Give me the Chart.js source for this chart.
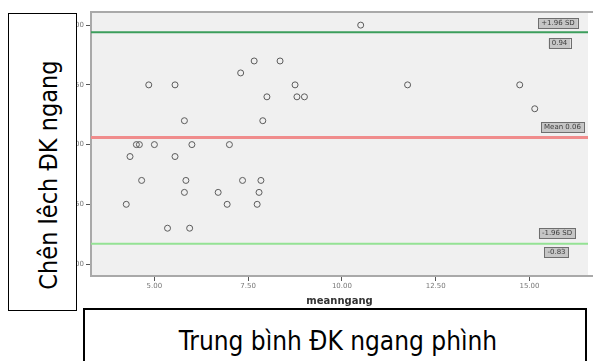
<!DOCTYPE html>
<html>
<head>
<meta charset="utf-8">
<script src="https://cdn.jsdelivr.net/npm/chart.js@4"></script>
<style>
body { margin: 0; background: #fff; }
#wrap { position: relative; width: 593px; height: 361px; overflow: hidden; }
#yBox { position: absolute; left: 8px; top: 13px; width: 67px; height: 296px; border: 1px solid #000; background: #fff; }
#yBox span { position: absolute; left: 39px; top: 161px; transform: translate(-50%, -50%) rotate(-90deg); white-space: nowrap; line-height: 1; font: 25px "DejaVu Sans Condensed", "DejaVu Sans", sans-serif; }
#xBox { position: absolute; left: 83px; top: 308px; width: 500px; height: 70px; border: 2px solid #000; background: #fff; }
#xBox span { position: absolute; left: 253px; top: 16px; transform: translateX(-50%); white-space: nowrap; line-height: 1; font: 26px "DejaVu Sans Condensed", "DejaVu Sans", sans-serif; }
</style>
</head>
<body>
<div id="wrap">
  <canvas id="chart" width="593" height="361"></canvas>
  <div id="yBox"><span>Chên lêch ĐK ngang</span></div>
  <div id="xBox"><span>Trung bình ĐK ngang phình</span></div>
</div>
<script>
// mean of the two measurements (x) and their difference (y)
const meanVals = [7.66, 8.35, 7.30, 4.85, 5.55, 8.75, 8.00, 8.80, 9.00, 5.80, 7.89,
  4.52, 4.60, 5.00, 6.00, 7.00, 4.35, 5.55, 4.66, 5.84, 7.35, 7.84, 5.80, 6.70,
  7.79, 4.25, 6.94, 7.74, 5.35, 5.94, 10.50, 11.75, 14.74, 15.14];
const diffVals = [0.7, 0.7, 0.6, 0.5, 0.5, 0.5, 0.4, 0.4, 0.4, 0.2, 0.2,
  0, 0, 0, 0, 0, -0.1, -0.1, -0.3, -0.3, -0.3, -0.3, -0.4, -0.4,
  -0.4, -0.5, -0.5, -0.5, -0.7, -0.7, 1.0, 0.5, 0.5, 0.3];

const xTicks = [5, 7.5, 10, 12.5, 15];
const yTicks = [-1, -0.5, 0, 0.5, 1];
const xRange = [3.31, 16.56];
const yRange = [-1.1, 1.11];

const upperLoA = 0.94;
const meanDiff = 0.06;
const lowerLoA = -0.83;
const refTexts = ["+1.96 SD", "0.94", "Mean 0.06", "-1.96 SD", "-0.83"];
const refValues = [upperLoA, upperLoA, meanDiff, lowerLoA, lowerLoA];

const hLine = v => [{ x: xRange[0], y: v }, { x: xRange[1], y: v }];

const plotFrame = {
  id: "plotFrame",
  beforeDatasetsDraw(chart) {
    const { ctx, chartArea: a } = chart;
    ctx.save();
    ctx.fillStyle = "#f0f0f0";
    ctx.fillRect(a.left, a.top, a.right - a.left, a.bottom - a.top);
    ctx.strokeStyle = "#a9a9a9";
    ctx.lineWidth = 2;
    ctx.beginPath();
    ctx.moveTo(a.right + 5, a.top);
    ctx.lineTo(a.left, a.top);
    ctx.lineTo(a.left, a.bottom);
    ctx.lineTo(a.right + 5, a.bottom);
    ctx.stroke();
    ctx.restore();
  }
};

// offsets of the little reference-line tags (from right edge, from the line)
const tagPos = [[30, -9], [28.5, 11], [25.5, -10], [31, -10.5], [31.5, 8.5]];

const refTags = {
  id: "refTags",
  afterDatasetsDraw(chart) {
    const { ctx, chartArea: a, scales: { y } } = chart;
    ctx.save();
    ctx.font = '7px "DejaVu Sans"';
    ctx.textAlign = "center";
    ctx.textBaseline = "middle";
    refTexts.forEach((t, i) => {
      const cx = a.right - tagPos[i][0];
      const cy = y.getPixelForValue(refValues[i]) + tagPos[i][1];
      const w = ctx.measureText(t).width + 6;
      ctx.fillStyle = "#c6c6c6";
      ctx.fillRect(cx - w / 2, cy - 5, w, 10);
      ctx.strokeStyle = "#6e6e6e";
      ctx.lineWidth = 1;
      ctx.strokeRect(Math.round(cx - w / 2) + 0.5, Math.round(cy - 5) + 0.5, Math.round(w), 10);
      ctx.fillStyle = "#3c3c3c";
      ctx.fillText(t, cx, cy);
    });
    ctx.restore();
  }
};

new Chart(document.getElementById("chart"), {
  type: "scatter",
  data: {
    datasets: [
      {
        data: meanVals.map((m, i) => ({ x: m, y: diffVals[i] })),
        pointRadius: 3,
        pointBorderWidth: 1,
        pointBorderColor: "#5c5c5c",
        pointBackgroundColor: "rgba(0,0,0,0)"
      },
      { data: hLine(upperLoA), showLine: true, pointRadius: 0, borderColor: "#3c9e5c", borderWidth: 2 },
      { data: hLine(meanDiff), showLine: true, pointRadius: 0, borderColor: "#f08c8c", borderWidth: 3 },
      { data: hLine(lowerLoA), showLine: true, pointRadius: 0, borderColor: "#94e294", borderWidth: 2 }
    ]
  },
  options: {
    responsive: false,
    animation: false,
    devicePixelRatio: 1,
    layout: { padding: { top: 12, right: 0, bottom: 54, left: 0 } },
    plugins: { legend: { display: false }, tooltip: { enabled: false } },
    scales: {
      x: {
        type: "linear",
        min: xRange[0],
        max: xRange[1],
        afterBuildTicks: s => { s.ticks = xTicks.map(v => ({ value: v })); },
        afterFit: s => { s.height = 31; },
        grid: { drawOnChartArea: false, drawTicks: true, tickLength: 5, color: "#555" },
        border: { display: false },
        ticks: {
          padding: 1,
          color: "#777",
          font: { size: 7, family: "DejaVu Sans" },
          maxRotation: 0,
          callback: v => v.toFixed(2)
        },
        title: {
          display: true,
          text: "meanngang",
          color: "#333",
          padding: 0,
          font: { size: 10, weight: "bold", family: "DejaVu Sans" }
        }
      },
      y: {
        type: "linear",
        min: yRange[0],
        max: yRange[1],
        afterBuildTicks: s => { s.ticks = yTicks.map(v => ({ value: v })); },
        afterFit: s => { s.width = 91; },
        grid: { drawOnChartArea: false, drawTicks: true, tickLength: 5, color: "#555" },
        border: { display: false },
        ticks: {
          padding: 2,
          color: "#777",
          font: { size: 7, family: "DejaVu Sans" },
          callback: v => v.toFixed(2)
        }
      }
    }
  },
  plugins: [plotFrame, refTags]
});
</script>
</body>
</html>
